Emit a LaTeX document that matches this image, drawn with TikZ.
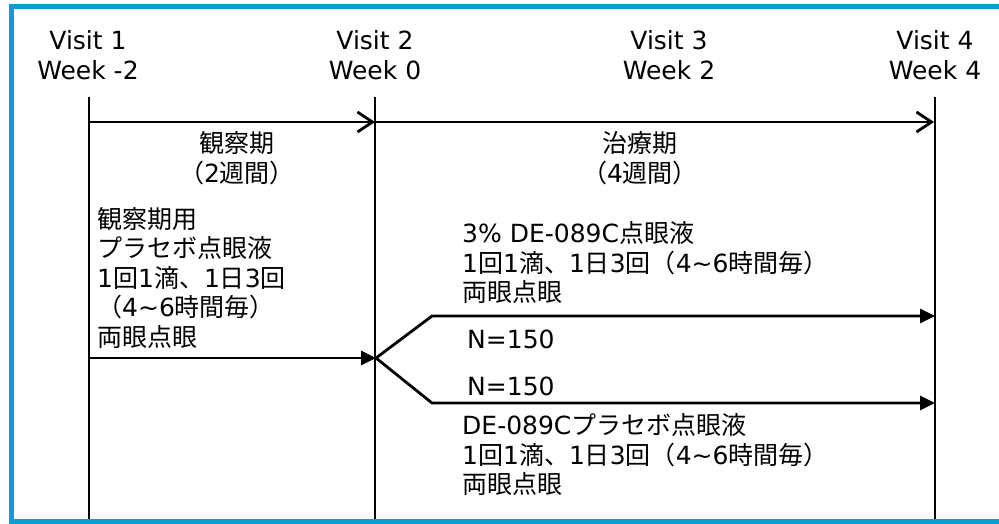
\documentclass[tikz,border=0pt]{standalone}
\usepackage{fontspec}
\setmainfont{DejaVu Sans}
\newfontfamily\jpfont{Noto Sans CJK JP}
\newcommand\jt[1]{{\jpfont #1}}
\usetikzlibrary{arrows.meta}
\definecolor{frameblue}{RGB}{10,158,208}
\begin{document}
\begin{tikzpicture}[x=1pt,y=-1pt,
  txt/.style={inner sep=0pt, font=\fontsize{25}{29.5}\selectfont},
  timeline/.style={line width=2.8pt, black},
  period/.style={line width=2.8pt, black, -{Straight Barb[length=15pt,width=20pt,line width=2.8pt]}},
  flow/.style={line width=2.8pt, black, line join=miter, -{Triangle[length=15pt,width=14pt]}},
  frame/.style={line width=5pt, frameblue}]
\useasboundingbox (0,0) rectangle (999,523);
\clip (0,0) rectangle (999,523);
% visit coordinates
\coordinate (v1t) at (89,97);  \coordinate (v1b) at (89,522);
\coordinate (v2t) at (375,97); \coordinate (v2b) at (375,522);
\coordinate (v4t) at (935,97); \coordinate (v4b) at (935,522);
\draw[timeline] (v1t) -- (v1b);
\draw[timeline] (v2t) -- (v2b);
\draw[timeline] (v4t) -- (v4b);
% period arrows
\coordinate (p1) at (89,122);
\coordinate (p2) at (375,122);
\coordinate (p3) at (934,122);
\draw[period] (p1) -- (p2);
\draw[period] (p2) -- (p3);
% run-in arrow and randomisation
\coordinate (r1) at (89,358);
\coordinate (split) at (376,358);
\coordinate (upc) at (432,316);
\coordinate (upe) at (935,316);
\coordinate (loc) at (432,403);
\coordinate (loe) at (935,403);
\draw[flow] (r1) -- (split);
\draw[flow] (split) -- (upc) -- (upe);
\draw[flow] (split) -- (loc) -- (loe);
% frame
\draw[frame] (1010,6.5) -- (11.5,6.5) -- (11.5,521.5) -- (1010,521.5);
% visit labels
\node[txt, align=center] (vis1) at (88,55) {Visit 1\\Week -2};
\node[txt, align=center] (vis2) at (375,55) {Visit 2\\Week 0};
\node[txt, align=center] (vis3) at (669,55) {Visit 3\\Week 2};
\node[txt, align=center] (vis4) at (935,55) {Visit 4\\Week 4};
% period labels
\node[txt, align=center] (obs) at (237,158) {\jt{観察期}\\\jt{（}2\jt{週間）}};
\node[txt, align=center] (trt) at (640,158) {\jt{治療期}\\\jt{（}4\jt{週間）}};
% run-in block
\node[txt, align=left, anchor=west] (runin) at (97,278)
  {\jt{観察期用}\\\jt{プラセボ点眼液}\\1\jt{回}1\jt{滴、}1\jt{日}3\jt{回}\\\jt{（}4\textasciitilde6\jt{時間毎）}\\\jt{両眼点眼}};
% active arm
\node[txt, align=left, anchor=west] (active) at (462,263)
  {3\% DE-089C\jt{点眼液}\\1\jt{回}1\jt{滴、}1\jt{日}3\jt{回（}4\textasciitilde6\jt{時間毎）}\\\jt{両眼点眼}};
\node[txt, anchor=west] (n1) at (467,339) {N=150};
\node[txt, anchor=west] (n2) at (467,386) {N=150};
% placebo arm
\node[txt, align=left, anchor=west] (placebo) at (462,455)
  {DE-089C\jt{プラセボ点眼液}\\1\jt{回}1\jt{滴、}1\jt{日}3\jt{回（}4\textasciitilde6\jt{時間毎）}\\\jt{両眼点眼}};
\end{tikzpicture}
\end{document}
